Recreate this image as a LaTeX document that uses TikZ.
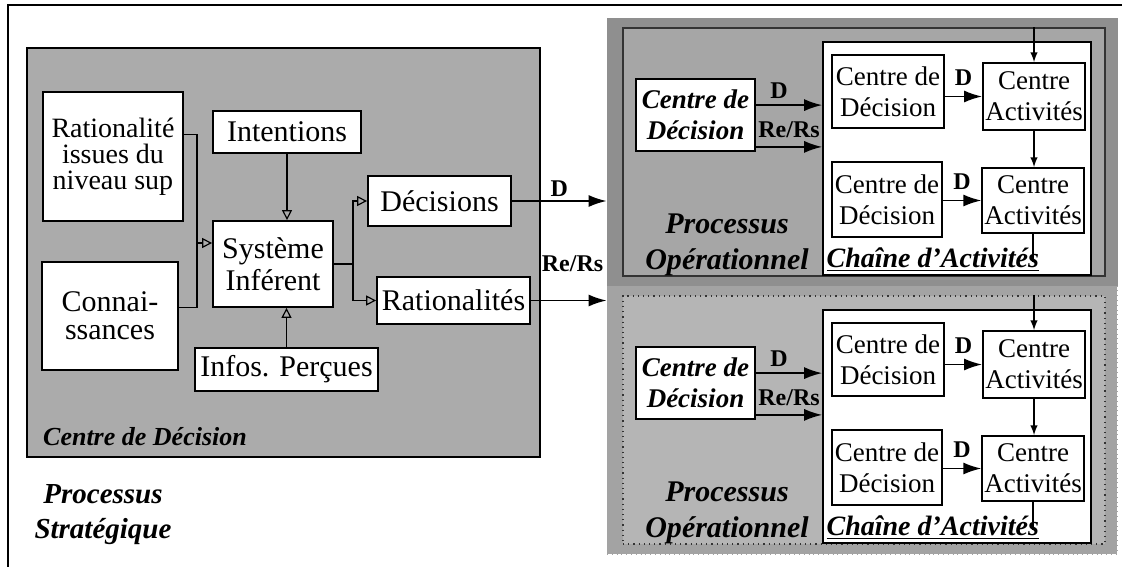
\documentclass[tikz,border=0pt]{standalone}
\usepackage{fontspec}
\setmainfont{Liberation Serif}
\usetikzlibrary{positioning,calc,arrows,arrows.meta}

\begin{document}
\begin{tikzpicture}[x=0.5pt,y=-0.5pt,
box/.style={draw,line width=0.9pt,fill=white,align=center,inner sep=1pt,font=\fontsize{15}{16}\selectfont},
sbox/.style={box,font=\fontsize{13.5}{15.5}\selectfont},
ibox/.style={box,font=\fontsize{13.5}{15.5}\selectfont\bfseries\itshape},
panel/.style={inner sep=0pt},
lbl/.style={font=\fontsize{12}{12}\selectfont\bfseries,inner sep=1pt},
ttl/.style={font=\fontsize{14}{17.5}\selectfont\bfseries\itshape,align=center},
feed/.style={line width=0.6pt,-{Triangle[open,length=5pt,width=5pt]}},
bigarr/.style={line width=0.9pt,-{Latex[length=9pt,width=6pt]}},
smallarr/.style={line width=0.7pt,-latex}]

\useasboundingbox (0,0) rectangle (1122,567);
% cadre
\draw[line width=0.7pt] (1122,5) -- (8,5) -- (8,567);

% processus strategique
\node[panel,draw,line width=0.8pt,fill=black!33,minimum width=256.5pt,minimum height=204.5pt] (strat) at (283.5,252.5) {};
\node[box,minimum width=70pt,minimum height=64.5pt,font=\fontsize{14}{13}\selectfont] (rat) at (113,156.5) {Rationalité\\ issues du\\ niveau sup};
\node[box,minimum width=68pt,minimum height=54pt,font=\fontsize{15}{14}\selectfont] (con) at (110,316) {Connai-\\ssances};
\node[box,minimum width=74pt,minimum height=21pt] (int) at (287,132) {Intentions};
\node[box,minimum width=60pt,minimum height=43pt] (sys) at (273,264) {Système\\ Inférent};
\node[box,minimum width=91.5pt,minimum height=21.5pt] (inf) at (286.5,369.5) {Infos. Perçues};
\node[box,minimum width=71.5pt,minimum height=25pt] (dec) at (439.5,201) {Décisions};
\node[box,minimum width=76.5pt,minimum height=23.5pt] (rats) at (453.5,300.5) {Rationalités};
\node[ttl,font=\fontsize{13}{16}\selectfont\bfseries\itshape] (cdlbl) at (145,437) {Centre de Décision};
\node[ttl,font=\fontsize{14.5}{17.5}\selectfont\bfseries\itshape] (ps) at (103,515) {Processus\\Stratégique};

\coordinate (jin) at (197,243);
\coordinate (jout) at ($(sys.east)+(19,0)$);
\draw[line width=0.6pt] ($(rat.north east)+(0,43)$) -| (jin);
\draw[line width=0.6pt] ($(con.north east)+(0,46)$) -| (jin);
\draw[feed] (jin) -- (jin -| sys.west);
\draw[feed] (int.south) -- (int.south |- sys.north);
\draw[feed] (inf.north) -- (inf.north |- sys.south);
\draw[line width=0.6pt] (sys.east) -- (jout);
\draw[feed] (jout) |- (dec.west);
\draw[feed] (jout) |- (rats.west);

% processus operationnels
\foreach \i/\dy/\bord/\fa/\fb in {1/0/solid/44/35,2/268/dotted/36/29}
{
\begin{scope}[shift={(0,\dy)}]
\node[panel,fill=black!\fa,draw=black!\fa,\bord,minimum width=255pt,minimum height=134pt] (op\i) at (862,152) {};
\node[panel,fill=black!\fb,draw=black!80,\bord,line width=0.6pt,minimum width=241pt,minimum height=124pt] (ip\i) at (864,152) {};
\node[panel,draw,fill=white,line width=0.8pt,minimum width=134pt,minimum height=116.5pt] (ch\i) at (957,158.5) {};
\node[ttl,font=\fontsize{15}{18}\selectfont\bfseries\itshape] (po\i) at (727,245) {Processus\\Opérationnel};
\node[ttl,anchor=south west,inner sep=2pt] (chl\i) at (ch\i.south west) {\underline{Chaîne d’Activités}};
\node[ibox,minimum width=59.5pt,minimum height=36pt] (cdi\i) at (695.5,115) {Centre de\\Décision};
\node[sbox,minimum width=56pt,minimum height=36.5pt] (cdA\i) at (888,91.5) {Centre de\\Décision};
\node[sbox,minimum width=55pt,minimum height=37.5pt] (cdB\i) at (887,199.5) {Centre de\\Décision};
\node[sbox,minimum width=51pt,minimum height=33.5pt] (caA\i) at (1034,96.5) {Centre\\Activités};
\node[sbox,minimum width=50pt,minimum height=32.5pt] (caB\i) at (1033,200.5) {Centre\\Activités};
\coordinate (dS\i) at ($(cdi\i.north east)+(0,27)$);
\coordinate (rS\i) at ($(cdi\i.south east)+(0,-5)$);
\draw[bigarr] (dS\i) -- (dS\i -| ch\i.west) node[lbl,pos=0.35,above=2pt] {D};
\draw[bigarr] (rS\i) -- (rS\i -| ch\i.west) node[lbl,midway,above=3pt] {Re/Rs};
\draw[bigarr] (caA\i.west -| cdA\i.east) -- (caA\i.west) node[lbl,midway,above=4pt] {D};
\draw[bigarr] (caB\i.west -| cdB\i.east) -- (caB\i.west) node[lbl,midway,above=4pt] {D};
\draw[smallarr] (caA\i.north |- ip\i.north) -- (caA\i.north);
\draw[smallarr] (caA\i.south) -- (caA\i.south |- caB\i.north);
\draw[line width=0.7pt] (caB\i.south) -- ++(0,28);
\end{scope}
}

\draw[bigarr] (dec.east) -- (dec.east -| op1.west) node[lbl,midway,above=1pt] {D};
\draw[bigarr] (rats.east) -- (rats.east -| op2.west) node[lbl,pos=0.55,above=13pt] {Re/Rs};
\end{tikzpicture}
\end{document}
